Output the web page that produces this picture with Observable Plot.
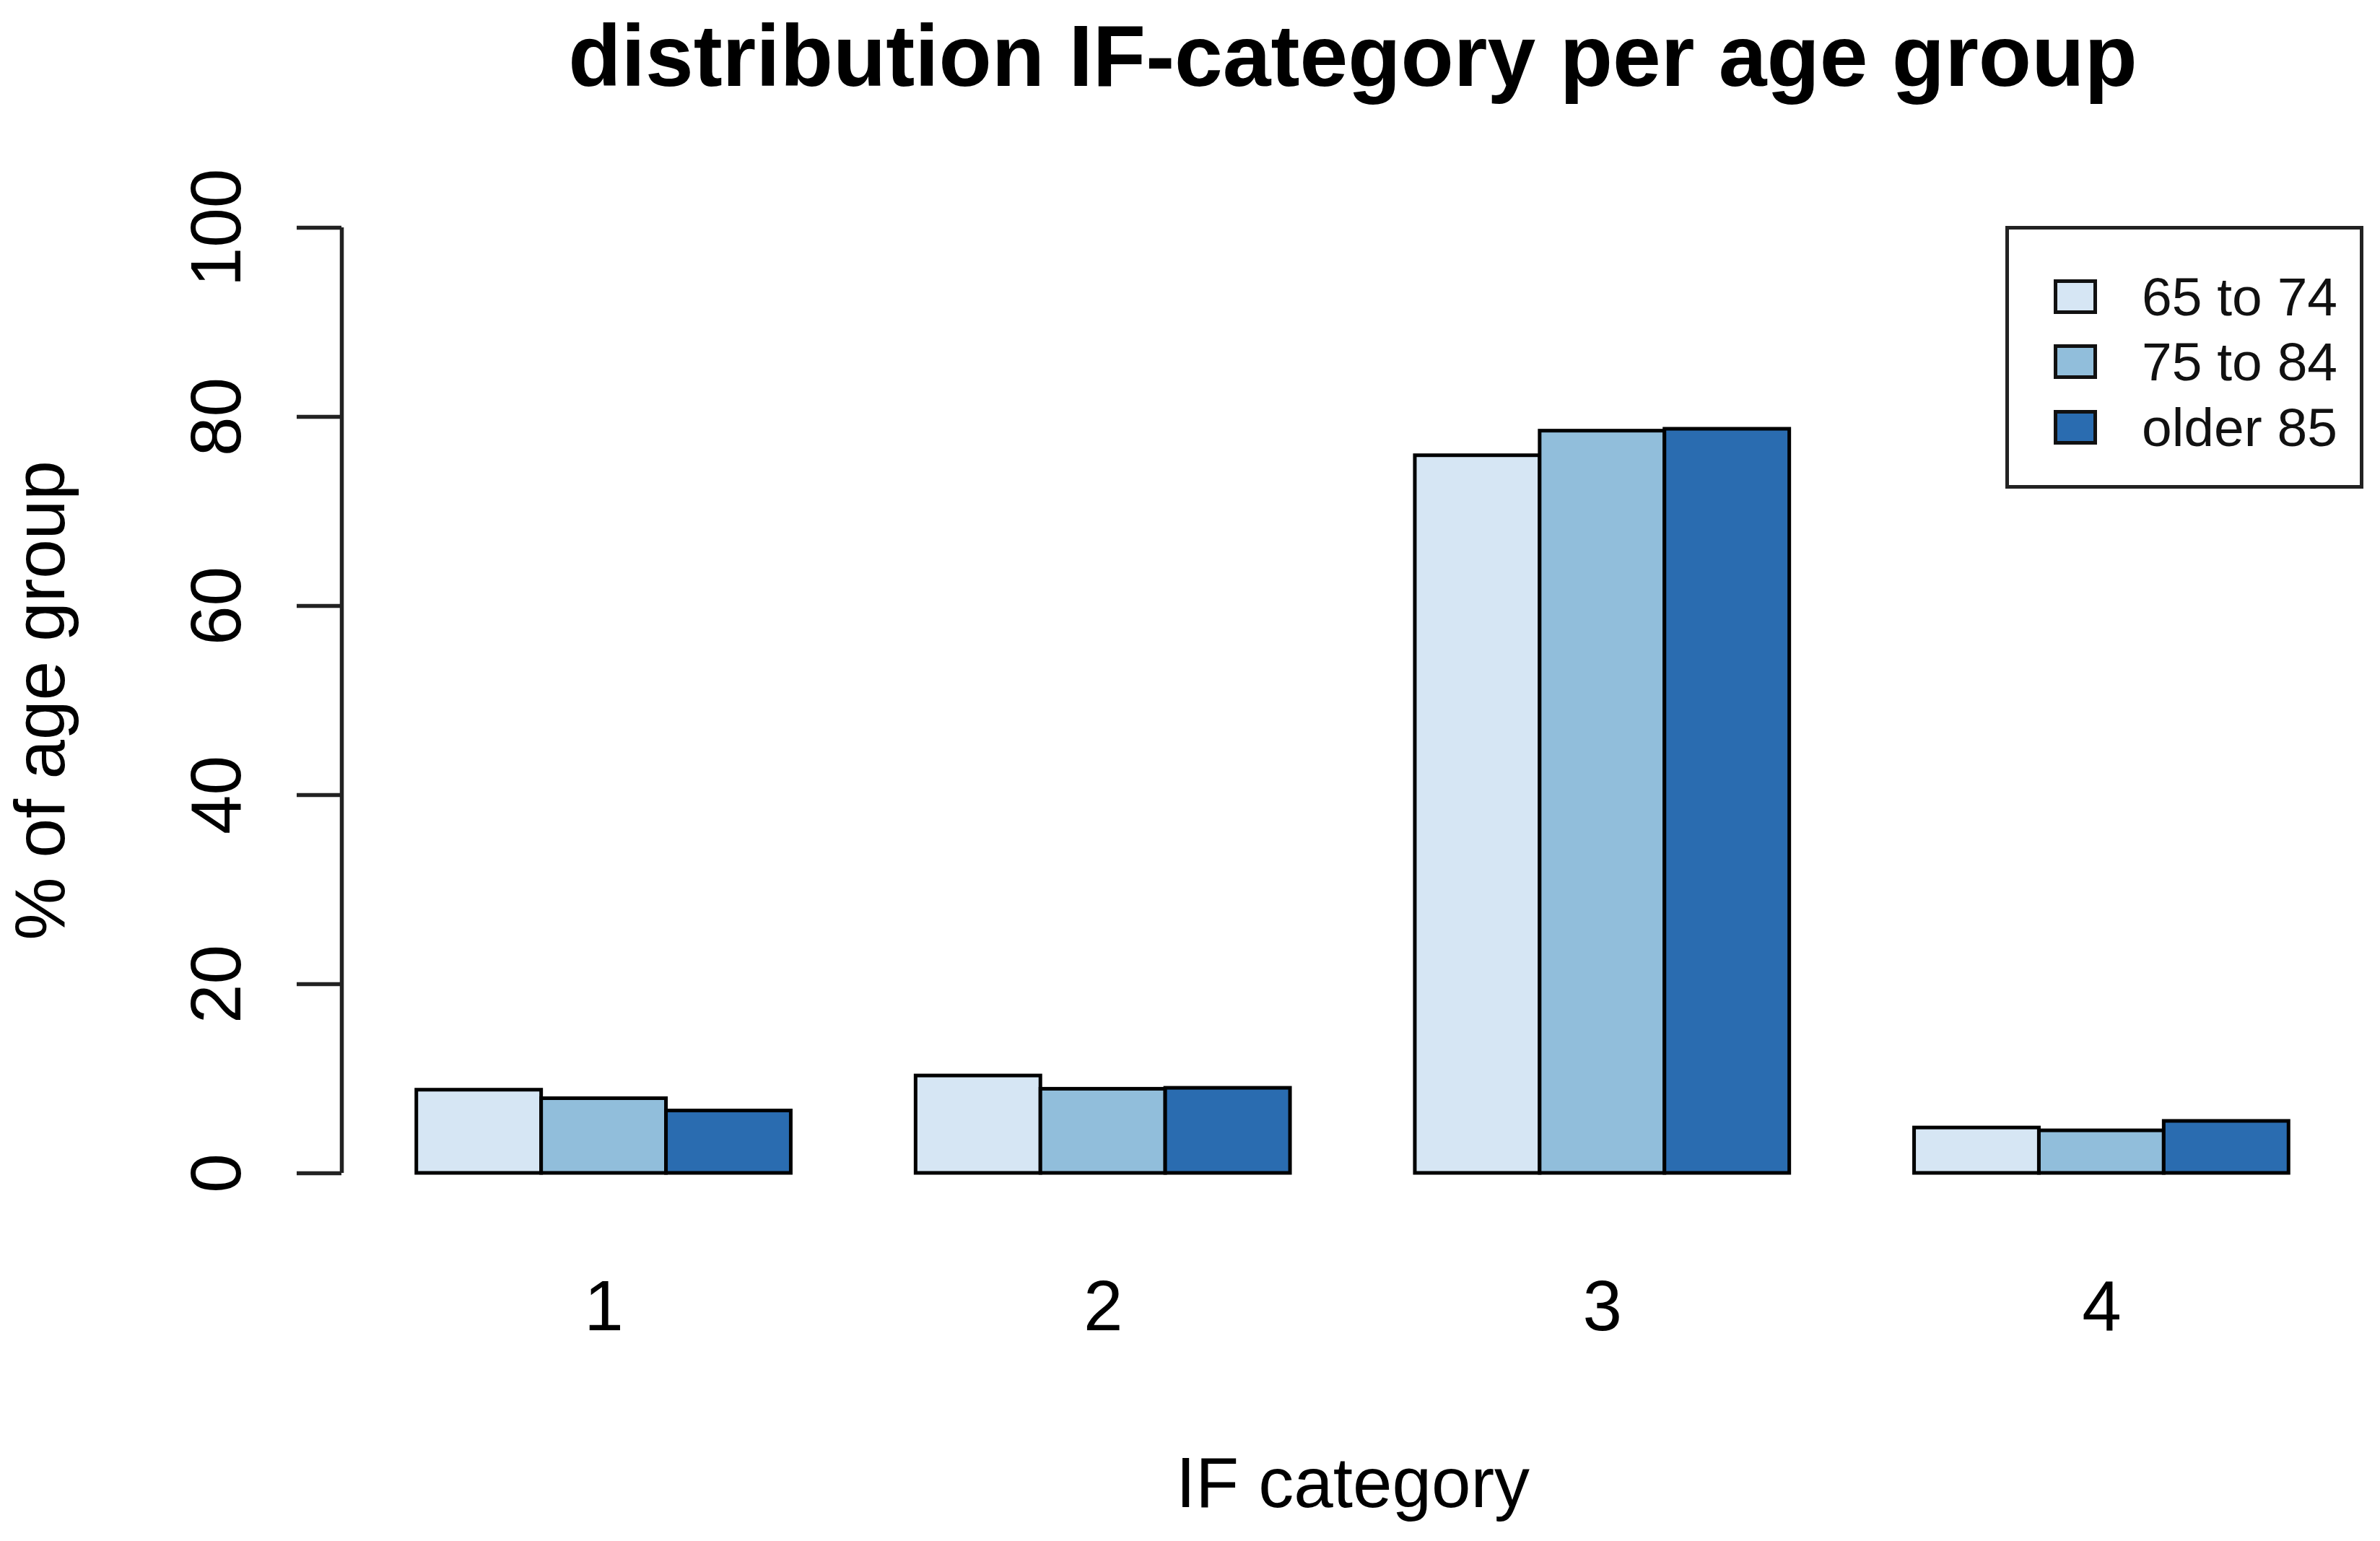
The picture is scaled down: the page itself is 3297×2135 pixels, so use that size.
<!DOCTYPE html>
<html>
<head>
<meta charset="utf-8">
<script src="https://cdn.jsdelivr.net/npm/d3@7"></script>
<script src="https://cdn.jsdelivr.net/npm/@observablehq/plot@0.6"></script>
<style>
  html, body { margin: 0; padding: 0; background: #fff; }
  #wrap { position: relative; width: 3297px; height: 2135px; font-family: "Liberation Sans", Arial, Helvetica, sans-serif; }
  #wrap svg { position: absolute; left: 0; top: 0; }
  #legend { position: absolute; left: 2778px; top: 313px; width: 496px; height: 364px; box-sizing: border-box;
            border: 5px solid #222; background: #fff; }
  .item { position: absolute; left: 62px; height: 48px; display: flex; align-items: center; }
  .sw { width: 60px; height: 48px; box-sizing: border-box; border: 5px solid #111; }
  .lab { margin-left: 62px; font-size: 75px; color: #111; white-space: nowrap; line-height: 1; }
</style>
</head>
<body>
<div id="wrap"></div>
<script>
// ---- data ----
const categories = ["1", "2", "3", "4"];
const ageGroups = ["65 to 74", "75 to 84", "older 85"];
const pct65to74 = [8.8, 10.3, 75.9, 4.8];
const pct75to84 = [7.9, 8.9, 78.5, 4.5];
const pctOlder85 = [6.6, 9.0, 78.7, 5.5];
const yTicks = [0, 20, 40, 60, 80, 100];
const colors = ["#d6e6f4", "#91bedb", "#2a6cb0"];
const titleText = "distribution IF-category per age group";
const xTitle = "IF category";
const yTitle = "% of age group";

const series = [pct65to74, pct75to84, pctOlder85];
const data = categories.flatMap((c, i) =>
  ageGroups.map((a, k) => ({category: c, age: a, pct: series[k][i]}))
);

const W = 3297, H = 2135;
const mL = 473, mR = 23, mT = 315, mB = 510;
const font = "Liberation Sans, Arial, Helvetica, sans-serif";

const main = Plot.plot({
  width: W, height: H,
  marginLeft: mL, marginRight: mR, marginTop: mT, marginBottom: mB,
  style: {fontFamily: font, fontSize: "98px", background: "transparent", color: "#000"},
  facet: {data, x: "category"},
  fx: {domain: categories, paddingInner: 0.25, paddingOuter: 0.15, round: false, label: null},
  x: {domain: ageGroups, padding: 0, round: false, axis: null},
  y: {domain: [0, 100], axis: null},
  color: {domain: ageGroups, range: colors},
  marks: [
    Plot.barY(data, {x: "age", y: "pct", fill: "age", stroke: "#000", strokeWidth: 5}),
    Plot.axisFx({anchor: "bottom", tickSize: 0, tickPadding: 148, fontSize: 98, label: null, fill: "#000"})
  ]
});

const overlay = Plot.plot({
  width: W, height: H,
  marginLeft: mL, marginRight: mR, marginTop: mT, marginBottom: mB,
  style: {fontFamily: font, fontSize: "98px", background: "transparent", color: "#000"},
  x: {domain: [0, 1], axis: null},
  y: {domain: [0, 100], axis: null},
  marks: [
    Plot.ruleX([0], {y1: d3.min(yTicks), y2: d3.max(yTicks), stroke: "#222", strokeWidth: 5.5}),
    Plot.axisY(yTicks, {anchor: "left", tickSize: 62, tickPadding: 79, tickRotate: -90,
                        fontSize: 98, stroke: "#222", strokeWidth: 5.5, fill: "#000", label: null}),
    Plot.text([titleText], {frameAnchor: "top", dy: 118 - mT, lineAnchor: "bottom",
                            fontSize: 120, fontWeight: "bold", fill: "#000"}),
    Plot.text([xTitle], {frameAnchor: "bottom", dy: 2087 - (H - mB), lineAnchor: "bottom",
                         fontSize: 98, fill: "#000"}),
    Plot.text([yTitle], {frameAnchor: "left", dx: 88 - mL, rotate: -90, lineAnchor: "bottom",
                         textAnchor: "middle", fontSize: 98, fill: "#000"})
  ]
});

const wrap = document.getElementById("wrap");
wrap.appendChild(main);
wrap.appendChild(overlay);

// legend
const legend = document.createElement("div");
legend.id = "legend";
const centers = [406, 496, 587];
ageGroups.forEach((a, k) => {
  const it = document.createElement("div");
  it.className = "item";
  it.style.top = (centers[k] - 313 - 24) + "px";
  const sw = document.createElement("div");
  sw.className = "sw";
  sw.style.background = colors[k];
  const lab = document.createElement("span");
  lab.className = "lab";
  lab.textContent = a;
  it.appendChild(sw); it.appendChild(lab);
  legend.appendChild(it);
});
wrap.appendChild(legend);
</script>
</body>
</html>
